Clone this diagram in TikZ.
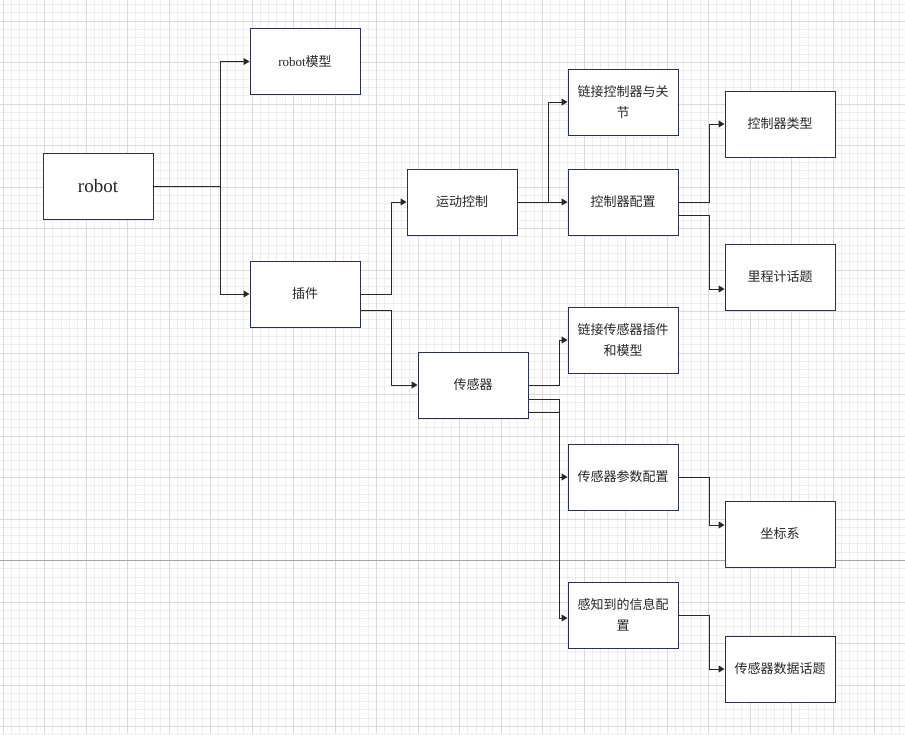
\documentclass[tikz,border=0pt]{standalone}
\usepackage{fontspec}
\setmainfont{Liberation Serif}
\newfontfamily\cjk{Noto Sans CJK SC}
\usetikzlibrary{arrows.meta}

\definecolor{boxline}{RGB}{42,48,84}
\definecolor{wire}{RGB}{40,40,40}
\definecolor{gridminor}{RGB}{238,238,238}
\definecolor{gridmajor}{RGB}{218,218,218}

\begin{document}
\begin{tikzpicture}[x=1pt, y=-1pt,
    box/.style={draw=boxline, line width=1pt, fill=white, minimum width=110pt, minimum height=66pt,
        inner sep=2pt, align=center, text=black!85, font=\cjk\fontsize{13}{21}\selectfont},
    link/.style={draw=wire, line width=1pt, -{Triangle[length=6pt,width=7pt]}}]
    \useasboundingbox (0,0) rectangle (905,734);
    % grid
    \foreach \i in {0,...,108} \draw[gridminor] ({2.7+8.3*\i},0) -- ++(0,734);
    \foreach \i in {-2,...,86} \draw[gridminor] (0,{20.7+8.3*\i}) -- ++(905,0);
    \foreach \i in {0,...,21} \draw[gridmajor] ({2.7+41.5*\i},0) -- ++(0,734);
    \foreach \i in {0,...,17} \draw[gridmajor] (0,{20.7+41.5*\i}) -- ++(905,0);
    \draw[black!35] (0,560.2) -- (905,560.2);

    % boxes
    \node[box, font=\fontsize{19}{23}\selectfont] (robot) at (98,186) {robot};
    \node[box, font=\fontsize{13}{21}\selectfont] (model) at (305,61.5) {robot{\cjk 模型}};
    \node[box] (plugin) at (305,294) {插件};
    \node[box] (motion) at (462,202) {运动控制};
    \node[box] (sensor) at (473,385) {传感器};
    \node[box] (ctrljoint) at (623,102) {链接控制器与关\\节};
    \node[box] (ctrlcfg) at (623,202) {控制器配置};
    \node[box] (ctrltype) at (780,124) {控制器类型};
    \node[box] (odom) at (780,277) {里程计话题};
    \node[box] (sensplug) at (623,340) {链接传感器插件\\和模型};
    \node[box] (sensparam) at (623,477) {传感器参数配置};
    \node[box] (senseinfo) at (623,615) {感知到的信息配\\置};
    \node[box] (frame) at (780,534) {坐标系};
    \node[box] (datatopic) at (780,669) {传感器数据话题};

    % connectors
    \draw[link] (robot.east) -- ++(67,0) |- (model.west);
    \draw[link] (robot.east) -- ++(67,0) |- (plugin.west);
    \draw[link] (plugin.east) -- ++(31,0) |- (motion.west);
    \draw[link] ([yshift=-16pt]plugin.east) -- ++(31,0) |- (sensor.west);
    \draw[link] (motion.east) -- ++(31,0) |- (ctrljoint.west);
    \draw[link] (motion.east) -- (ctrlcfg.west);
    \draw[link] (ctrlcfg.east) -- ++(31,0) |- (ctrltype.west);
    \draw[link] ([yshift=-13pt]ctrlcfg.east) -- ++(31,0) |- ([yshift=-12pt]odom.west);
    \draw[link] (sensor.east) -- ++(31,0) |- (sensplug.west);
    \draw[link] ([yshift=-14pt]sensor.east) -- ++(31,0) |- (sensparam.west);
    \draw[link] ([yshift=-27pt]sensor.east) -- ++(31,0) |- ([yshift=-3pt]senseinfo.west);
    \draw[link] (sensparam.east) -- ++(31,0) |- ([yshift=9pt]frame.west);
    \draw[link] (senseinfo.east) -- ++(31,0) |- (datatopic.west);
\end{tikzpicture}
\end{document}
